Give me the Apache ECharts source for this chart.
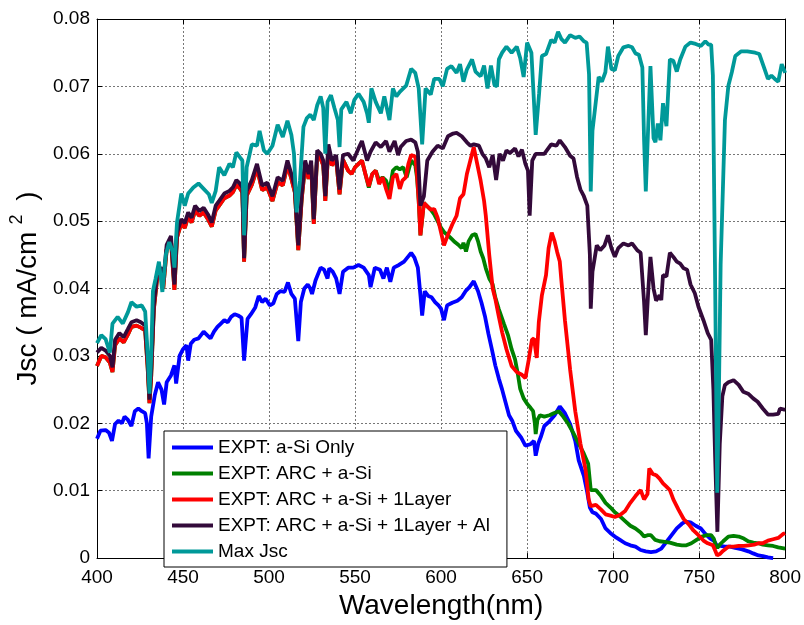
<!DOCTYPE html>
<html>
<head>
<meta charset="utf-8">
<script src="https://cdn.jsdelivr.net/npm/echarts@6/dist/echarts.min.js"></script>
<style>html,body{margin:0;padding:0;background:#fff}#c{width:804px;height:625px}</style>
</head>
<body>
<div id="c"></div>
<script>
var seriesNames = ['EXPT: a-Si Only','EXPT: ARC + a-Si','EXPT: ARC + a-Si + 1Layer','EXPT: ARC + a-Si + 1Layer + Al','Max Jsc'];
var xTicks = [400,450,500,550,600,650,700,750,800];
var yTicks = [0,0.01,0.02,0.03,0.04,0.05,0.06,0.07,0.08];

var blueData = [[400,0.0177],[402,0.0189],[405,0.0190],[407,0.0186],[408.7,0.0174],[410.5,0.0199],[412.5,0.0204],[414.5,0.0200],[416,0.0210],[418,0.0205],[420,0.0196],[422,0.0218],[424,0.0222],[426,0.0218],[428,0.0215],[429,0.0200],[430,0.0148],[431.5,0.0210],[433.6,0.0242],[435.5,0.0261],[437.5,0.0250],[439,0.0228],[440.5,0.0261],[443,0.0271],[445,0.0286],[446,0.0259],[448,0.0300],[450,0.0310],[452,0.0316],[453,0.0293],[454.5,0.0318],[456.5,0.0324],[459,0.0326],[462,0.0336],[464,0.0331],[466,0.0326],[468,0.0336],[470,0.0343],[472,0.0348],[474,0.0353],[476,0.0350],[478,0.0358],[480,0.0362],[482,0.0360],[484,0.0357],[485.5,0.0293],[487.5,0.0355],[489.5,0.0362],[492,0.0372],[494,0.0389],[496,0.0380],[498,0.0385],[500.5,0.0375],[502.5,0.0378],[504.5,0.0392],[506.5,0.0396],[509,0.0395],[511,0.0409],[513,0.0392],[515,0.0385],[517,0.0322],[518.5,0.0380],[520.5,0.0400],[522.5,0.0406],[524,0.0400],[525,0.0392],[527,0.0412],[530,0.0431],[532,0.0428],[534,0.0415],[535,0.0430],[537,0.0425],[539,0.0415],[541,0.0392],[543,0.0425],[546,0.0431],[549,0.0431],[552,0.0435],[555,0.0431],[558,0.0420],[559,0.0402],[561.5,0.0431],[564.5,0.0428],[566.5,0.0415],[568.5,0.0431],[570.5,0.0410],[572.5,0.0431],[575.5,0.0435],[578.5,0.0440],[582.6,0.0453],[584.5,0.0446],[586.5,0.0431],[588,0.0390],[589,0.0360],[590.5,0.0396],[592.5,0.0389],[594.5,0.0387],[596.5,0.0380],[598.5,0.0375],[600,0.0370],[601.7,0.0353],[603.5,0.0375],[606.5,0.0379],[609.5,0.0382],[612,0.0387],[614.5,0.0397],[616.5,0.0402],[619,0.0411],[621.5,0.0396],[623.5,0.0379],[625.5,0.0359],[627.5,0.0333],[629.5,0.0310],[631.5,0.0286],[633.6,0.0266],[635.5,0.0250],[637.5,0.0231],[639.5,0.0212],[641.5,0.0203],[643.5,0.0189],[646.5,0.0179],[649,0.0167],[652,0.0169],[654,0.0174],[655,0.0152],[656.5,0.0170],[658,0.0180],[660,0.0196],[663,0.0203],[666,0.0212],[669,0.0225],[672,0.0215],[675,0.0199],[678,0.0174],[680,0.0145],[683,0.0122],[685,0.0097],[686.5,0.0075],[688,0.0068],[690,0.0066],[693,0.0058],[695.6,0.0044],[698.5,0.0037],[701,0.0032],[704,0.0027],[707,0.0022],[710,0.0019],[713,0.0017],[716,0.0012],[719,0.0010],[722,0.0009],[725,0.0010],[728,0.0014],[731,0.0024],[734,0.0034],[737,0.0044],[740,0.0051],[742,0.0054],[745,0.0053],[748,0.0048],[751,0.0044],[753.6,0.0036],[756.5,0.0029],[758.5,0.0026],[760.5,0.0018],[762.5,0.0018],[765,0.0017],[768,0.0017],[771,0.0015],[775,0.0013],[778.6,0.0010],[781.4,0.0007],[784.5,0.0004],[787,0.0003],[790,0.0001],[793,0.0000]];

var greenData = [[400,0.0285],[402.5,0.0300],[405,0.0298],[407.5,0.0290],[409,0.0276],[410.5,0.0316],[413,0.0326],[415.5,0.0320],[418,0.0332],[420,0.0343],[423,0.0345],[425.5,0.0342],[428,0.0338],[429.5,0.0280],[430.5,0.0230],[431.5,0.0270],[433,0.0368],[435,0.0416],[437,0.0425],[438.5,0.0400],[440.5,0.0458],[443,0.0471],[445,0.0398],[446.5,0.0476],[449,0.0497],[451,0.0490],[453,0.0507],[455,0.0498],[457,0.0516],[459.5,0.0508],[462,0.0513],[464.5,0.0503],[466.7,0.0492],[469,0.0516],[471,0.0523],[474,0.0534],[477,0.0538],[479,0.0543],[481,0.0554],[483,0.0549],[484.5,0.0543],[485.5,0.0440],[487,0.0538],[490,0.0554],[493,0.0578],[496,0.0546],[499,0.0550],[502,0.0530],[505,0.0558],[508,0.0553],[510.7,0.0583],[513,0.0563],[515,0.0543],[517,0.0457],[519,0.0533],[521,0.0583],[523,0.0563],[524.5,0.0583],[526,0.0496],[528,0.0598],[530,0.0593],[531.5,0.0583],[532.7,0.0530],[534.5,0.0607],[536.5,0.0583],[539,0.0591],[541,0.0540],[543,0.0591],[546,0.0575],[548,0.0570],[550,0.0580],[552,0.0585],[554,0.0590],[556,0.0570],[558,0.0550],[560,0.0570],[562,0.0575],[564,0.0560],[566,0.0565],[568,0.0560],[570,0.0545],[572,0.0575],[574,0.0580],[576,0.0577],[578,0.0580],[580,0.0565],[582.6,0.0590],[585,0.0583],[586,0.0565],[587,0.0530],[588,0.0479],[590,0.0527],[592,0.0522],[594,0.0517],[596,0.0510],[598,0.0500],[600,0.0490],[602,0.0483],[604,0.0479],[606,0.0474],[608,0.0469],[610,0.0465],[612,0.0460],[613,0.0468],[614.5,0.0455],[616,0.0470],[618,0.0479],[620,0.0481],[621.5,0.0470],[623,0.0455],[624.5,0.0445],[626,0.0430],[628,0.0415],[630,0.0406],[631.5,0.0387],[633.5,0.0370],[636.5,0.0348],[639,0.0330],[641,0.0310],[643,0.0295],[644.5,0.0275],[646,0.0251],[648,0.0237],[650,0.0229],[652,0.0223],[653.5,0.0218],[654.5,0.0200],[655,0.0184],[656,0.0205],[657.5,0.0212],[660,0.0210],[663,0.0212],[665.5,0.0215],[668.4,0.0218],[671,0.0210],[674,0.0199],[677,0.0185],[680,0.0170],[683,0.0155],[685.5,0.0140],[687,0.0101],[690,0.0101],[693,0.0092],[695.6,0.0082],[698.5,0.0075],[701,0.0068],[704,0.0062],[707,0.0055],[710,0.0048],[713,0.0044],[716,0.0038],[718,0.0032],[720,0.0034],[722,0.0034],[724.5,0.0027],[727,0.0025],[730,0.0024],[733,0.0023],[737,0.0020],[740,0.0019],[742.6,0.0019],[745.5,0.0022],[748.5,0.0027],[751.6,0.0032],[754.5,0.0034],[757,0.0034],[758.5,0.0029],[759.5,0.0020],[760.6,0.0015],[762,0.0020],[764,0.0025],[767,0.0032],[770,0.0033],[773,0.0032],[776,0.0029],[778.6,0.0025],[781.5,0.0023],[784.5,0.0022],[787,0.0020],[790,0.0019],[793,0.0018],[796,0.0016],[800,0.0014]];

var redData = [[400,0.0285],[402.5,0.0300],[405,0.0298],[407.5,0.0290],[409,0.0276],[410.5,0.0316],[413,0.0326],[415.5,0.0320],[418,0.0332],[420,0.0343],[423,0.0345],[425.5,0.0342],[428,0.0338],[429.5,0.0280],[430.5,0.0230],[431.5,0.0270],[433,0.0368],[435,0.0416],[437,0.0425],[438.5,0.0400],[440.5,0.0458],[443,0.0471],[445,0.0398],[446.5,0.0476],[449,0.0497],[451,0.0490],[453,0.0507],[455,0.0498],[457,0.0516],[459.5,0.0508],[462,0.0513],[464.5,0.0503],[466.7,0.0492],[469,0.0516],[471,0.0523],[474,0.0534],[477,0.0538],[479,0.0543],[481,0.0554],[483,0.0549],[484.5,0.0543],[485.5,0.0440],[487,0.0538],[490,0.0554],[493,0.0578],[496,0.0546],[499,0.0550],[502,0.0530],[505,0.0558],[508,0.0553],[510.7,0.0583],[513,0.0563],[515,0.0543],[517,0.0457],[519,0.0533],[521,0.0583],[523,0.0563],[524.5,0.0583],[526,0.0496],[528,0.0598],[530,0.0593],[531.5,0.0583],[532.7,0.0530],[534.5,0.0607],[536.5,0.0583],[539,0.0591],[541,0.0540],[543,0.0591],[546,0.0575],[548,0.0570],[550,0.0580],[552,0.0585],[554,0.0590],[556,0.0570],[558,0.0552],[560,0.0570],[562,0.0575],[564,0.0555],[566,0.0565],[568,0.0548],[570,0.0533],[572,0.0565],[574,0.0570],[576,0.0548],[577.5,0.0560],[579.5,0.0565],[581,0.0585],[582.6,0.0598],[585,0.0596],[586,0.0570],[587,0.0530],[588,0.0479],[590,0.0527],[592,0.0522],[594,0.0517],[596,0.0518],[598,0.0505],[600,0.0483],[601.7,0.0464],[604,0.0480],[606.5,0.0495],[609,0.0508],[611,0.0534],[613,0.0540],[615,0.0570],[617,0.0590],[619,0.0610],[621,0.0585],[623,0.0560],[625,0.0530],[626,0.0508],[628,0.0450],[630,0.0400],[631.5,0.0385],[633.6,0.0358],[635.5,0.0335],[638,0.0310],[641,0.0285],[644,0.0276],[647,0.0272],[649,0.0267],[651,0.0295],[652.8,0.0324],[654,0.0326],[655.6,0.0297],[656.8,0.0350],[658.6,0.0390],[661,0.0420],[662.5,0.0460],[664.3,0.0483],[666,0.0470],[667.5,0.0454],[669,0.0440],[670,0.0410],[672,0.0353],[675,0.0280],[678,0.0218],[681,0.0170],[684,0.0131],[685.8,0.0087],[687,0.0077],[690,0.0079],[693,0.0072],[695.6,0.0065],[698.5,0.0063],[701,0.0061],[704,0.0064],[707,0.0070],[710,0.0082],[713,0.0092],[716,0.0101],[718,0.0087],[720,0.0095],[721,0.0133],[723,0.0125],[725,0.0123],[727,0.0118],[729,0.0111],[731,0.0106],[733,0.0101],[735,0.0087],[738,0.0072],[741,0.0058],[744,0.0050],[746.7,0.0041],[749.6,0.0034],[752.5,0.0026],[755,0.0022],[758,0.0019],[759.5,0.0010],[760.5,0.0004],[762,0.0006],[764,0.0011],[767,0.0017],[770,0.0017],[773,0.0018],[776,0.0018],[779,0.0019],[782,0.0020],[784.5,0.0022],[787,0.0022],[790,0.0026],[793,0.0028],[796,0.0030],[799,0.0036],[800,0.0037]];

var purpleData = [[400,0.0305],[402.5,0.0312],[405,0.0308],[407.5,0.0300],[409,0.0283],[410.5,0.0324],[413,0.0334],[415.5,0.0328],[418,0.0340],[420,0.0350],[423,0.0353],[425.5,0.0350],[428,0.0345],[429.5,0.0290],[430.5,0.0235],[431.5,0.0280],[433,0.0375],[435,0.0423],[437,0.0432],[438.5,0.0410],[440.5,0.0465],[443,0.0478],[445,0.0406],[446.5,0.0483],[449,0.0503],[451,0.0497],[453,0.0513],[455,0.0505],[457,0.0523],[459.5,0.0515],[462,0.0520],[464.5,0.0510],[466.7,0.0498],[469,0.0523],[471,0.0530],[474,0.0541],[477,0.0545],[479,0.0550],[481,0.0561],[483,0.0556],[484.5,0.0550],[485.5,0.0445],[487,0.0545],[490,0.0561],[493,0.0585],[496,0.0553],[499,0.0557],[502,0.0537],[505,0.0565],[508,0.0560],[510.7,0.0590],[513,0.0570],[515,0.0550],[517,0.0464],[519,0.0540],[521,0.0590],[523,0.0570],[524.5,0.0590],[526,0.0503],[528,0.0605],[530,0.0600],[531.5,0.0590],[532.7,0.0537],[534.5,0.0614],[536.5,0.0590],[539,0.0598],[541,0.0547],[543,0.0598],[546,0.0600],[549,0.0590],[552,0.0608],[554,0.0619],[557,0.0590],[559,0.0603],[562,0.0617],[565,0.0610],[568,0.0619],[570,0.0603],[573,0.0619],[575,0.0598],[576.5,0.0610],[579.7,0.0619],[582.6,0.0621],[585,0.0617],[586.5,0.0603],[588,0.0523],[590,0.0537],[592,0.0590],[595,0.0603],[598,0.0612],[601,0.0608],[604,0.0626],[607,0.0630],[609,0.0631],[612,0.0626],[615,0.0617],[617,0.0612],[619,0.0614],[622,0.0612],[624,0.0600],[626,0.0593],[628,0.0580],[630,0.0598],[632,0.0561],[634,0.0600],[636,0.0590],[638,0.0605],[640,0.0601],[643,0.0608],[645,0.0596],[647,0.0606],[649,0.0585],[650.5,0.0575],[651.5,0.0508],[653,0.0590],[655,0.0600],[657,0.0600],[660,0.0600],[664,0.0614],[667,0.0612],[669,0.0620],[672,0.0610],[675,0.0597],[677,0.0593],[679,0.0566],[681,0.0547],[683,0.0537],[685,0.0523],[686.5,0.0450],[687,0.0370],[688,0.0425],[690.5,0.0464],[692.5,0.0457],[695,0.0464],[697,0.0479],[699,0.0460],[701,0.0447],[703,0.0460],[706,0.0467],[709,0.0464],[711,0.0467],[714,0.0457],[716,0.0453],[718,0.0380],[719,0.0331],[720.5,0.0400],[721.7,0.0447],[723.5,0.0400],[725,0.0382],[727,0.0390],[728,0.0383],[729,0.0420],[731,0.0418],[733,0.0453],[735,0.0447],[737,0.0440],[739,0.0437],[741,0.0430],[743,0.0428],[745,0.0406],[747.5,0.0393],[749.6,0.0373],[752.5,0.0353],[755,0.0334],[757,0.0324],[758.3,0.0250],[759.3,0.0150],[760.6,0.0039],[762,0.0170],[763.5,0.0240],[765,0.0257],[767,0.0261],[770,0.0264],[773,0.0257],[775.6,0.0247],[778.5,0.0244],[781.4,0.0237],[784,0.0232],[787,0.0222],[790,0.0213],[793,0.0213],[796,0.0214],[797,0.0222],[800,0.0220]];

var tealData = [[400,0.0319],[402.5,0.0331],[405,0.0325],[407.5,0.0305],[409,0.0348],[412,0.0358],[415,0.0348],[418,0.0365],[420,0.0380],[423,0.0373],[426,0.0375],[428,0.0366],[429.5,0.0300],[430.5,0.0244],[431.5,0.0300],[432.5,0.0396],[434,0.0414],[436,0.0440],[438,0.0395],[440,0.0450],[442,0.0469],[444,0.0455],[445,0.0431],[446.5,0.0498],[449,0.0541],[451,0.0523],[453,0.0541],[456,0.0550],[459,0.0556],[462,0.0548],[465,0.0540],[466.7,0.0527],[469,0.0545],[471,0.0580],[474,0.0568],[477,0.0585],[479,0.0580],[481,0.0602],[483,0.0595],[484.5,0.0590],[485.5,0.0479],[487,0.0580],[490,0.0614],[493,0.0612],[494.5,0.0634],[497,0.0605],[499,0.0600],[502,0.0612],[505,0.0643],[508,0.0625],[510.7,0.0649],[513,0.0628],[514.5,0.0600],[516,0.0513],[518,0.0560],[520,0.0640],[522,0.0653],[524,0.0658],[526,0.0650],[528,0.0672],[530,0.0685],[531.5,0.0668],[532.7,0.0600],[534,0.0677],[536,0.0687],[538,0.0668],[540,0.0650],[541,0.0610],[542,0.0666],[545,0.0677],[547.5,0.0660],[549.6,0.0680],[552,0.0689],[555,0.0677],[557,0.0660],[558,0.0646],[559.5,0.0697],[562,0.0677],[565,0.0660],[567,0.0685],[570,0.0650],[572,0.0697],[574,0.0685],[576,0.0692],[579.7,0.0701],[582.6,0.0726],[585,0.0720],[587,0.0697],[589,0.0614],[591,0.0697],[594,0.0688],[596,0.0711],[599,0.0711],[601,0.0700],[603.5,0.0726],[606,0.0730],[609,0.0720],[611,0.0733],[613,0.0707],[615,0.0725],[618,0.0740],[620,0.0722],[623,0.0715],[625,0.0731],[627,0.0697],[629,0.0731],[631,0.0702],[632.5,0.0700],[633.6,0.0740],[635.5,0.0750],[638,0.0759],[641,0.0750],[644,0.0759],[646,0.0742],[648,0.0714],[650,0.0765],[652.5,0.0750],[655,0.0628],[657,0.0690],[658.6,0.0745],[661,0.0748],[664,0.0769],[666,0.0765],[668,0.0781],[670,0.0770],[672,0.0765],[675,0.0776],[678,0.0772],[680.5,0.0774],[683,0.0767],[684.6,0.0765],[686,0.0718],[687,0.0544],[688,0.0634],[691.6,0.0714],[693.5,0.0707],[695.5,0.0721],[697,0.0759],[699,0.0726],[701,0.0724],[703,0.0745],[706,0.0758],[709,0.0760],[711,0.0758],[713,0.0749],[715,0.0747],[717,0.0728],[718,0.0620],[719,0.0544],[721.7,0.0730],[723.5,0.0623],[724.6,0.0617],[726,0.0645],[727.5,0.0620],[729,0.0675],[731,0.0641],[733,0.0740],[735,0.0738],[737,0.0722],[739,0.0740],[742,0.0759],[745,0.0765],[748,0.0763],[751,0.0760],[753.6,0.0767],[755.5,0.0762],[757,0.0762],[758,0.0716],[759.2,0.0435],[760.5,0.0097],[761.5,0.0245],[762.5,0.0435],[765,0.0650],[767,0.0701],[769,0.0721],[771,0.0745],[774.5,0.0752],[778,0.0752],[782.6,0.0750],[785,0.0748],[788,0.0726],[790,0.0711],[792,0.0716],[794,0.0711],[796,0.0707],[798,0.0733],[800,0.0720]];

var seriesColors = ['#0000ff','#008000','#ff0000','#330a3a','#009999'];
var seriesData = [blueData, greenData, redData, purpleData, tealData];

var FONT = "'Liberation Sans', Arial, sans-serif";
var chart = echarts.init(document.getElementById('c'), null, {renderer:'canvas'});
var gridLine = {show:true, lineStyle:{color:'#777', type:[2,2], width:1}};
var axisLineBlack = {show:true, onZero:false, lineStyle:{color:'#000', width:1}};
var tickIn = {show:true, inside:true, length:5, lineStyle:{color:'#000'}};

chart.setOption({
  animation:false,
  backgroundColor:'#fff',
  grid:{left:97, right:17, top:19, bottom:55, containLabel:false},
  legend:{
    data:seriesNames, orient:'vertical', left:164, top:431,
    padding:[7,17,6,8], itemGap:7, itemWidth:41, itemHeight:4, icon:'rect',
    backgroundColor:'#fff', borderColor:'#000', borderWidth:1, borderRadius:0,
    textStyle:{fontFamily:FONT, fontSize:19, color:'#000', lineHeight:19},
    selectedMode:false
  },
  xAxis:[{
    type:'value', min:xTicks[0], max:xTicks[xTicks.length-1], interval:50, position:'bottom',
    axisLine:axisLineBlack, axisTick:tickIn, splitLine:gridLine,
    axisLabel:{fontFamily:FONT, fontSize:19, color:'#000', margin:10},
    name:'Wavelength(nm)', nameLocation:'middle', nameGap:28,
    nameTextStyle:{fontFamily:FONT, fontSize:28, color:'#000'}
  },{
    type:'value', min:xTicks[0], max:xTicks[xTicks.length-1], interval:50, position:'top',
    axisLine:axisLineBlack, axisTick:tickIn, splitLine:{show:false}, axisLabel:{show:false}
  }],
  yAxis:[{
    type:'value', min:yTicks[0], max:yTicks[yTicks.length-1], interval:0.01, position:'left',
    axisLine:axisLineBlack, axisTick:tickIn, splitLine:gridLine,
    axisLabel:{fontFamily:FONT, fontSize:19, color:'#000', margin:7,
      formatter:function(v){return v===0?'0':v.toFixed(2);}},
    name:'{a|Jsc ( mA/cm}{s|2}{a| )}', nameLocation:'middle', nameGap:52, nameRotate:90,
    nameTextStyle:{fontFamily:FONT, color:'#000',
      rich:{a:{fontFamily:FONT, fontSize:28, color:'#000', lineHeight:34, verticalAlign:'bottom'},
            s:{fontFamily:FONT, fontSize:18, color:'#000', lineHeight:34, verticalAlign:'top', padding:[0,6,0,7]}}}
  },{
    type:'value', min:yTicks[0], max:yTicks[yTicks.length-1], interval:0.01, position:'right',
    axisLine:axisLineBlack, axisTick:tickIn, splitLine:{show:false}, axisLabel:{show:false}
  }],
  series: seriesNames.map(function(n,i){
    return {name:n, type:'line', data:seriesData[i], xAxisIndex:0, yAxisIndex:0,
      symbol:'none', showSymbol:false, smooth:false, clip:true,
      color:seriesColors[i], lineStyle:{color:seriesColors[i], width:3.8}, z:2+i};
  })
});
</script>
</body>
</html>
